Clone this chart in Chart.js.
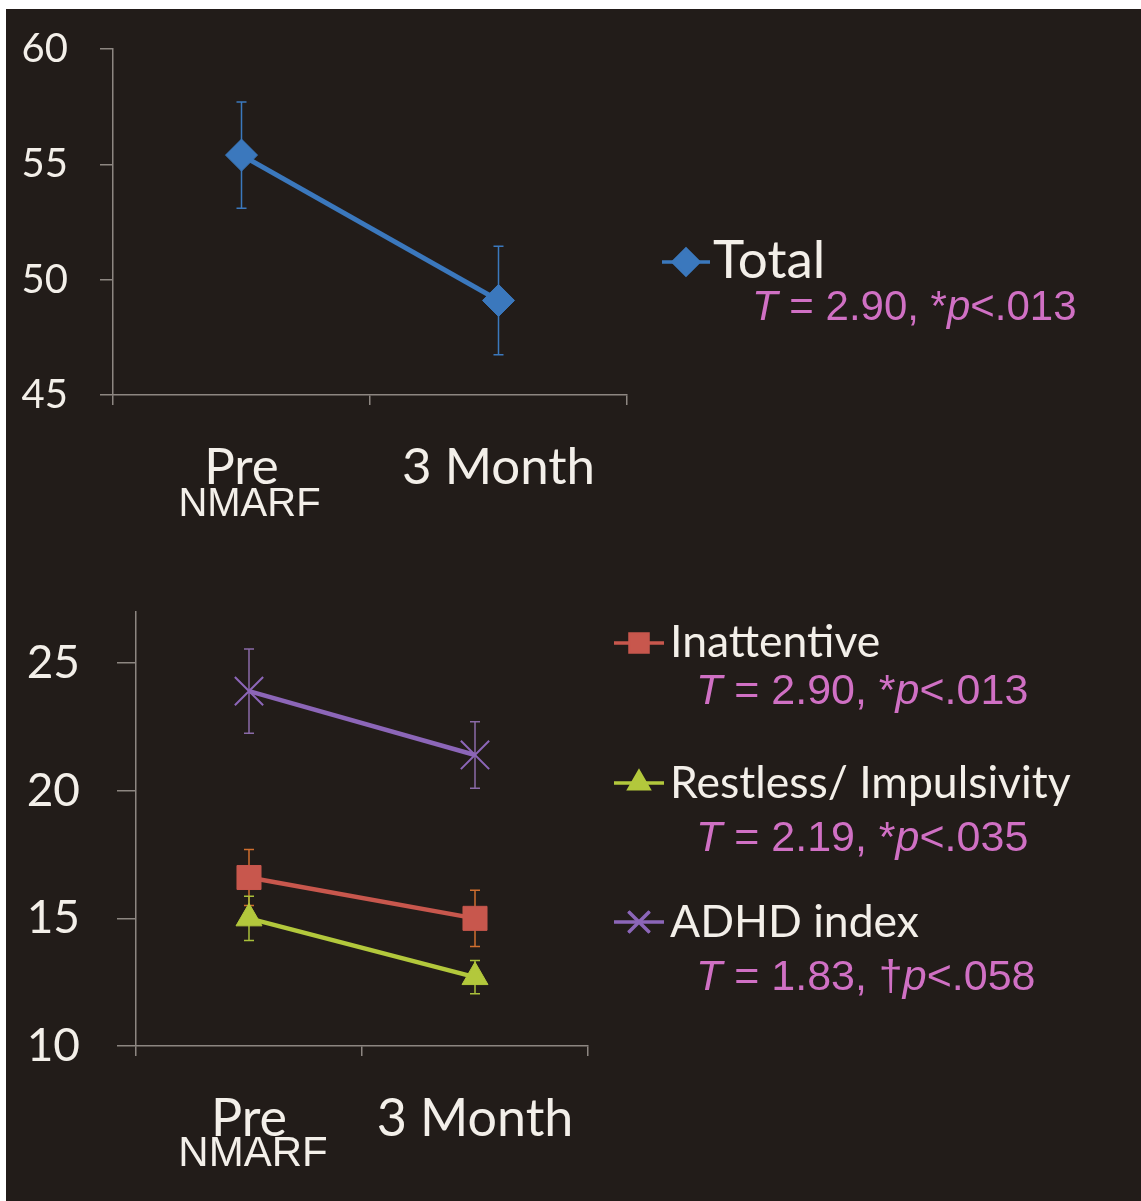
<!DOCTYPE html>
<html>
<head>
<meta charset="utf-8">
<script src="https://cdn.jsdelivr.net/npm/chart.js@4.4.1/dist/chart.umd.min.js"></script>
<style>
  html, body { margin: 0; padding: 0; background: #ffffff; }
  .panel { position: absolute; left: 6px; top: 9px; width: 1135px; height: 1192px; background: #221c19; }
  .layer { position: absolute; left: 0; top: 0; width: 1141px; height: 1201px; }
</style>
</head>
<body>
<div class="panel"></div>
<div class="layer"><canvas id="topChart"></canvas></div>
<div class="layer"><canvas id="bottomChart"></canvas></div>
<script>
// categories and sub label under "Pre"
const categories = ['Pre', '3 Month'];
const preSubLabel = 'NMARF';

// top panel: total score (mean, +/- error)
const totalMeans = [55.4, 49.1];
const totalErr = [2.3, 2.35];
const topTicks = [45, 50, 55, 60];

// bottom panel: subscales
const inattentiveMeans = [16.6, 15.0];
const inattentiveErr = [1.1, 1.1];
const restlessMeans = [15.0, 12.7];
const restlessErr = [0.87, 0.65];
const adhdMeans = [23.9, 21.4];
const adhdErr = [1.65, 1.3];
const bottomTicks = [10, 15, 20, 25];

// statistics shown under each legend entry
const statT = ['2.90', '2.90', '2.19', '1.83'];
const statMark = ['*', '*', '*', '\u2020'];
const statP = ['.013', '.013', '.035', '.058'];

const sansLabel = 'Lato, "Open Sans", sans-serif';
const sansStat = '"Liberation Sans", Arial, sans-serif';
const textColor = '#f3efe9';
const statColor = '#d070c4';
const axisColor = '#8d8681';

Chart.defaults.animation = false;
Chart.defaults.events = [];

// draw vertical error bars with caps behind the markers
const errorBars = {
  id: 'errorBars',
  beforeDatasetsDraw(chart) {
    const { ctx } = chart;
    const y = chart.scales.y;
    chart.data.datasets.forEach((ds, i) => {
      const meta = chart.getDatasetMeta(i);
      meta.data.forEach((pt, j) => {
        const e = ds.errors[j];
        const top = y.getPixelForValue(ds.data[j] + e);
        const bot = y.getPixelForValue(ds.data[j] - e);
        ctx.save();
        ctx.strokeStyle = ds.errorColor;
        ctx.lineWidth = 1.5;
        ctx.beginPath();
        ctx.moveTo(pt.x, top); ctx.lineTo(pt.x, bot);
        ctx.moveTo(pt.x - 5, top); ctx.lineTo(pt.x + 5, top);
        ctx.moveTo(pt.x - 5, bot); ctx.lineTo(pt.x + 5, bot);
        ctx.stroke();
        ctx.restore();
      });
    });
  }
};

// "NMARF" below the Pre category label
const subLabel = {
  id: 'subLabel',
  afterDraw(chart, args, opts) {
    const { ctx } = chart;
    const x = chart.scales.x;
    ctx.save();
    ctx.fillStyle = textColor;
    ctx.font = opts.size + 'px ' + sansStat;
    ctx.textAlign = 'center';
    ctx.textBaseline = 'alphabetic';
    ctx.fillText(preSubLabel, x.getPixelForValue(0) + opts.dx, chart.chartArea.bottom + opts.dy);
    ctx.restore();
  }
};

// legend to the right, with the t-test line under each entry
const sideLegend = {
  id: 'sideLegend',
  afterDraw(chart, args, opts) {
    const { ctx } = chart;
    chart.data.datasets.forEach((ds, i) => {
      const row = opts.rows[i];
      const k = opts.statIndex + i;
      ctx.save();
      ctx.strokeStyle = ds.borderColor;
      ctx.lineWidth = 3.5;
      ctx.beginPath();
      ctx.moveTo(opts.lineX, row.y);
      ctx.lineTo(opts.lineX + opts.lineLen, row.y);
      ctx.stroke();
      Chart.helpers.drawPoint(ctx, {
        pointStyle: ds.pointStyle,
        radius: ds.pointRadius * opts.markScale,
        borderWidth: ds.pointBorderWidth
      }, opts.lineX + opts.lineLen / 2, row.y);
      ctx.fillStyle = ds.pointBackgroundColor;
      ctx.strokeStyle = ds.pointBorderColor;
      ctx.lineWidth = ds.pointBorderWidth;
      if (ds.pointStyle !== 'crossRot') ctx.fill();
      ctx.stroke();

      ctx.fillStyle = textColor;
      ctx.font = opts.labelSize + 'px ' + sansLabel;
      ctx.textBaseline = 'alphabetic';
      ctx.textAlign = 'left';
      ctx.fillText(ds.label, opts.textX, row.base);

      const parts = [
        ['T', true], [' = ' + statT[k] + ', ' + statMark[k], false],
        ['p', true], ['<' + statP[k], false]
      ];
      let sx = opts.statX;
      ctx.fillStyle = statColor;
      parts.forEach(([s, it]) => {
        ctx.font = (it ? 'italic ' : '') + opts.statSize + 'px ' + sansStat;
        ctx.fillText(s, sx, row.statBase);
        sx += ctx.measureText(s).width;
      });
      ctx.restore();
    });
  }
};

function makeScales(o) {
  return {
    x: {
      offset: true,
      grid: { offset: true, drawOnChartArea: false, tickLength: 10, color: axisColor, lineWidth: 1.5 },
      border: { color: axisColor, width: 1.5 },
      ticks: { color: textColor, font: { family: sansLabel, size: o.catSize }, padding: o.catPad, maxRotation: 0, autoSkip: false },
      afterFit(s) { s.height = o.xHeight; }
    },
    y: {
      min: o.min, max: o.max,
      afterBuildTicks(s) { s.ticks = o.ticks.map(v => ({ value: v })); },
      grid: { drawOnChartArea: false, tickLength: o.tickLen, color: axisColor, lineWidth: 1.5 },
      border: { color: axisColor, width: 1.5 },
      ticks: { color: textColor, font: { family: sansLabel, size: o.tickSize }, padding: o.tickPad },
      // fixed axis width; let layout padding alone decide the plot top
      afterFit(s) { s.width = o.yWidth; s.paddingTop = 0; s.paddingBottom = 0; }
    }
  };
}

new Chart(document.getElementById('topChart'), {
  type: 'line',
  data: {
    labels: categories,
    datasets: [{
      label: 'Total',
      data: totalMeans,
      errors: totalErr,
      errorColor: '#3b78bd',
      borderColor: '#3b78bd',
      borderWidth: 5,
      pointStyle: 'rectRot',
      pointRadius: 16,
      pointBackgroundColor: '#3b78bd',
      pointBorderColor: '#3b78bd',
      pointBorderWidth: 1
    }]
  },
  options: {
    responsive: true,
    maintainAspectRatio: false,
    layout: { padding: { left: 0, top: 49, right: 514, bottom: 1201 - 395 - 140 } },
    scales: makeScales({ min: 45, max: 60, ticks: topTicks, tickLen: 13, tickSize: 40, tickPad: 32,
      yWidth: 113, catSize: 51, catPad: 32, xHeight: 140 }),
    plugins: {
      legend: { display: false },
      tooltip: { enabled: false },
      subLabel: { size: 40, dx: 8, dy: 121 },
      sideLegend: {
        lineX: 662, lineLen: 48, textX: 713, statX: 752, labelSize: 53, statSize: 42, statIndex: 0, markScale: 0.8,
        rows: [{ y: 262, base: 278, statBase: 320 }]
      }
    }
  },
  plugins: [errorBars, subLabel, sideLegend]
});

new Chart(document.getElementById('bottomChart'), {
  type: 'line',
  data: {
    labels: categories,
    datasets: [{
      label: 'Inattentive',
      data: inattentiveMeans,
      errors: inattentiveErr,
      errorColor: '#cf6e2f',
      borderColor: '#c8574d',
      borderWidth: 4.5,
      pointStyle: 'rect',
      pointRadius: 17,
      pointBackgroundColor: '#c8574d',
      pointBorderColor: '#c8574d',
      pointBorderWidth: 1
    }, {
      label: 'Restless/ Impulsivity',
      data: restlessMeans,
      errors: restlessErr,
      errorColor: '#a9bf3a',
      borderColor: '#b3c83c',
      borderWidth: 4.5,
      pointStyle: 'triangle',
      pointRadius: 15,
      pointBackgroundColor: '#b3c83c',
      pointBorderColor: '#b3c83c',
      pointBorderWidth: 1
    }, {
      label: 'ADHD index',
      data: adhdMeans,
      errors: adhdErr,
      errorColor: '#8a6aa8',
      borderColor: '#8c66b8',
      borderWidth: 4.5,
      pointStyle: 'crossRot',
      pointRadius: 20,
      pointBackgroundColor: '#8c66b8',
      pointBorderColor: '#8c66b8',
      pointBorderWidth: 2
    }]
  },
  options: {
    responsive: true,
    maintainAspectRatio: false,
    layout: { padding: { left: 0, top: 612, right: 553, bottom: 1201 - 1046 - 130 } },
    scales: makeScales({ min: 10, max: 27, ticks: bottomTicks, tickLen: 19, tickSize: 46, tickPad: 37,
      yWidth: 136, catSize: 52, catPad: 32, xHeight: 130 }),
    plugins: {
      legend: { display: false },
      tooltip: { enabled: false },
      subLabel: { size: 42, dx: 4, dy: 120 },
      sideLegend: {
        lineX: 614, lineLen: 50, textX: 670, statX: 696, labelSize: 44.5, statSize: 43, statIndex: 1, markScale: 0.75,
        rows: [
          { y: 643, base: 657, statBase: 704 },
          { y: 783, base: 798, statBase: 851 },
          { y: 922, base: 937, statBase: 990 }
        ]
      }
    }
  },
  plugins: [errorBars, subLabel, sideLegend]
});
</script>
</body>
</html>
